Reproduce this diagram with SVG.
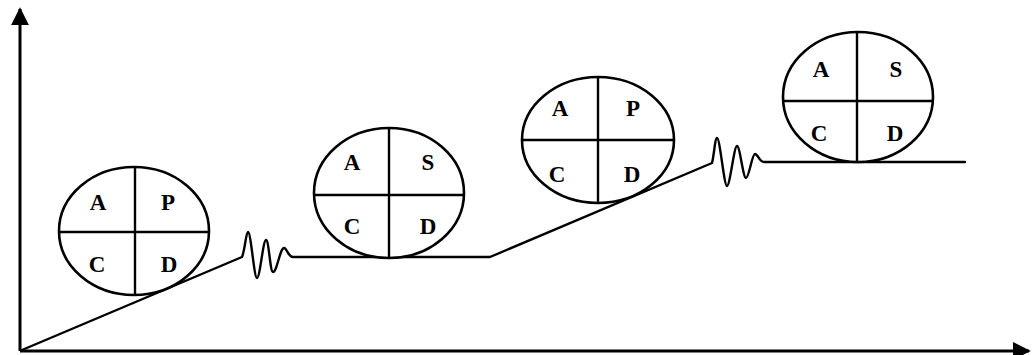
<svg xmlns="http://www.w3.org/2000/svg" width="1033" height="355" viewBox="0 0 1033 355">
<style>
.ax{stroke:#000;stroke-width:3;fill:none}
.ln{stroke:#000;stroke-width:2.4;fill:none;stroke-linejoin:round;stroke-linecap:round}
.cy{stroke:#000;stroke-width:2.6;fill:#fff}
.dv{stroke:#000;stroke-width:2.4}
.t{font-family:"Liberation Serif",serif;font-size:23px;font-weight:bold;text-anchor:middle;fill:#000}
</style>
<defs>
<marker id="ar" viewBox="0 0 10 10" refX="9" refY="5" markerWidth="6" markerHeight="6" orient="auto" markerUnits="strokeWidth">
<path d="M0,0 L10,5 L0,10 Z" fill="#000"/>
</marker>
</defs>
<rect width="1033" height="355" fill="#fff"/>
<g id="axes">
<line class="ax" x1="20" y1="351" x2="20" y2="9" marker-end="url(#ar)"/>
<line class="ax" x1="20" y1="351" x2="1029" y2="351" marker-end="url(#ar)"/>
</g>
<g id="connectors">
<path class="ln" d="M22,350 L242,257 C245,250 246,232 248,232 C251,232 254,278 257,278 C260,278 263,240 266,240 C269,240 270,272 273,272 C277,272 280,248 284,248 C287,248 288,257 293,257 L490,257 L712,163 C714,156 715,138 717,138 C720,138 724,186 727,186 C730,186 734,146 737,146 C740,146 743,178 746,178 C749,178 752,154 755,154 C758,154 759,162 764,162 L965,162"/>
</g>
<g id="cycle1">
<ellipse class="cy" cx="134" cy="231" rx="75" ry="64"/>
<line class="dv" x1="135" y1="167" x2="135" y2="295"/>
<line class="dv" x1="59" y1="232" x2="209" y2="232"/>
<text class="t" x="98" y="210">A</text>
<text class="t" x="168" y="210">P</text>
<text class="t" x="97" y="272">C</text>
<text class="t" x="169" y="272">D</text>
</g>
<g id="cycle2">
<ellipse class="cy" cx="389" cy="193" rx="75" ry="65"/>
<line class="dv" x1="389" y1="128" x2="389" y2="258"/>
<line class="dv" x1="314" y1="195" x2="464" y2="195"/>
<text class="t" x="352" y="170">A</text>
<text class="t" x="428" y="170">S</text>
<text class="t" x="352" y="234">C</text>
<text class="t" x="428" y="234">D</text>
</g>
<g id="cycle3">
<ellipse class="cy" cx="598" cy="140" rx="76" ry="63"/>
<line class="dv" x1="598" y1="77" x2="598" y2="203"/>
<line class="dv" x1="522" y1="140" x2="674" y2="140"/>
<text class="t" x="560" y="116">A</text>
<text class="t" x="633" y="116">P</text>
<text class="t" x="557" y="182">C</text>
<text class="t" x="632" y="182">D</text>
</g>
<g id="cycle4">
<ellipse class="cy" cx="858" cy="97" rx="75" ry="65"/>
<line class="dv" x1="857" y1="32" x2="857" y2="162"/>
<line class="dv" x1="783" y1="101" x2="933" y2="101"/>
<text class="t" x="821" y="77">A</text>
<text class="t" x="896" y="77">S</text>
<text class="t" x="819" y="141">C</text>
<text class="t" x="895" y="141">D</text>
</g>
</svg>
